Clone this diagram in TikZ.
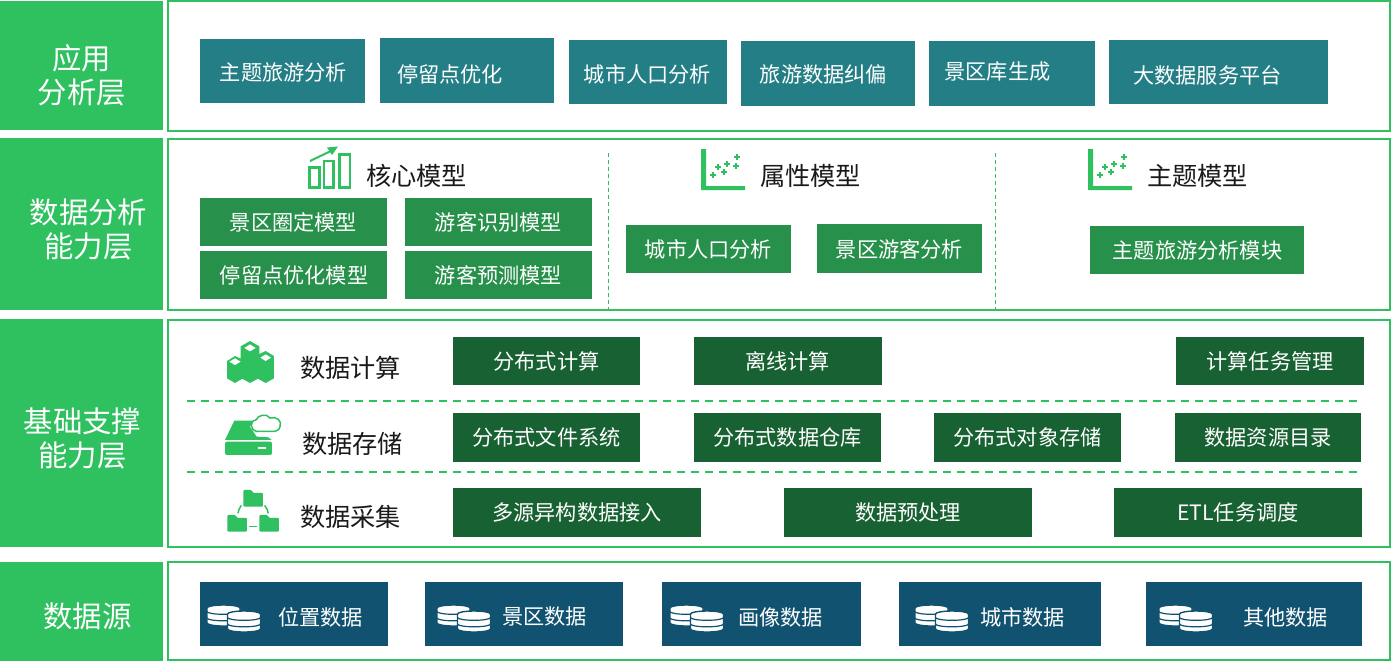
\documentclass[tikz,border=0pt]{standalone}
\usepackage{fontspec}
\setmainfont{Noto Sans CJK SC}
\definecolor{leaf}{HTML}{2FC060}
\definecolor{tealbox}{HTML}{237F85}
\definecolor{midgreen}{HTML}{27904A}
\definecolor{darkgreen}{HTML}{186132}
\definecolor{navybox}{HTML}{105270}
\definecolor{inktext}{HTML}{1A1A1A}
\tikzset{
  x=1pt,y=-1pt,
  every node/.style={inner sep=0pt,outer sep=0pt},
  band/.style={fill=leaf,draw=none},
  frame/.style={draw=leaf,line width=2pt,fill=white},
  bandtext/.style={text=white,font=\fontsize{29.4}{33.5}\selectfont,align=center},
  boxtext/.style={text=white,font=\fontsize{21.2}{25}\selectfont},
  headtext/.style={text=inktext,font=\fontsize{25.2}{30}\selectfont},
  rowsep/.style={draw=leaf,line width=1.6pt,dash pattern=on 8pt off 6pt},
  colsep/.style={draw=leaf,line width=1pt,dash pattern=on 4pt off 3pt},
  icon/.style={fill=leaf,draw=none},
  disc/.style={fill=white,draw=none},
  pics/dbstack/.style={code={
    \foreach \dx/\dy in {0/0,20.5/6}{
      % the outline keeps the front stack apart from the one behind it
      \path[disc,draw=navybox,line width=1.4pt] (\dx,\dy+3)
        arc[start angle=180,end angle=360,x radius=16.5,y radius=3]
        -- (\dx+33,\dy+18)
        arc[start angle=0,end angle=180,x radius=16.5,y radius=3] -- cycle;
      \foreach \k in {6.5,13}{
        \draw[navybox,line width=1.2pt] (\dx,\dy+\k)
          arc[start angle=180,end angle=0,x radius=16.5,y radius=2.8];
      }
    }
  }},
  pics/scatter/.style={code={
    \fill[leaf] (0,0) rectangle (5,41) (0,37) rectangle (44,41);
    \foreach \px/\py in {12/26,17/18,23/23,26/15,35/17,36/8}{
      \draw[leaf,line width=1.5pt] (\px-2.8,\py) -- (\px+2.8,\py) (\px,\py-2.8) -- (\px,\py+2.8);
    }
  }}
}
% filled box with its caption placed separately
\newcommand{\tagbox}[8]{%
  \node[fill=#6,minimum width=#4pt-#2pt,minimum height=#5pt-#3pt,anchor=north west] (#1) at (#2,#3) {};
  \node[boxtext] (#1t) at (#7) {#8};
}
\begin{document}
\begin{tikzpicture}
\useasboundingbox (0,0) rectangle (1391,662);
\fill[white] (0,0) rectangle (1391,662);

% layer bands on the left and their frames
\fill[band] (0,1) rectangle (163,130);
\fill[band] (0,138) rectangle (163,310);
\fill[band] (0,319) rectangle (163,547);
\fill[band] (0,562) rectangle (163,661);
\draw[frame] (168,1) rectangle (1390,131);
\draw[frame] (168,139) rectangle (1390,310);
\draw[frame] (168,320) rectangle (1390,547);
\draw[frame] (168,562) rectangle (1390,660);
\node[bandtext] (lapp) at (81.7,75.5) {应用\\分析层};
\node[bandtext] (lana) at (88.5,229.5) {数据分析\\能力层};
\node[bandtext] (lbase) at (82.5,438.5) {基础支撑\\能力层};
\node[bandtext] (lsrc) at (87.5,616) {数据源};

% application layer
\tagbox{a1}{200}{39}{365}{103}{tealbox}{283.5,72}{主题旅游分析}
\tagbox{a2}{380}{38}{554}{103}{tealbox}{450,74}{停留点优化}
\tagbox{a3}{569}{40}{727}{104}{tealbox}{647.5,74}{城市人口分析}
\tagbox{a4}{741}{41}{915}{106}{tealbox}{823.5,74}{旅游数据纠偏}
\tagbox{a5}{929}{41}{1095}{106}{tealbox}{997.5,72}{景区库生成}
\tagbox{a6}{1109}{40}{1328}{104}{tealbox}{1207.5,75}{大数据服务平台}

% analysis layer
\draw[colsep] (608,153) -- (608,309);
\draw[colsep] (995,153) -- (995,309);
\node[headtext] (hcore) at (416.5,175.5) {核心模型};
\node[headtext] (hattr) at (810.5,175.5) {属性模型};
\node[headtext] (htheme) at (1197.5,175.5) {主题模型};
\tagbox{b1}{200}{198}{387}{246}{midgreen}{293.5,222}{景区圈定模型}
\tagbox{b2}{405}{198}{592}{246}{midgreen}{498.5,222}{游客识别模型}
\tagbox{b3}{200}{251}{387}{299}{midgreen}{294,275}{停留点优化模型}
\tagbox{b4}{405}{251}{592}{299}{midgreen}{498.5,275}{游客预测模型}
\tagbox{b5}{626}{225}{791}{273}{midgreen}{708.5,249}{城市人口分析}
\tagbox{b6}{817}{224}{982}{273}{midgreen}{899.5,249}{景区游客分析}
\tagbox{b7}{1090}{226}{1304}{274}{midgreen}{1197.5,250}{主题旅游分析模块}

% rising bars icon
\draw[leaf,line width=2.2pt] (309.5,167.5) rectangle (319.5,187.5)
  (324,161) rectangle (333.5,187.5) (339.5,154.5) rectangle (350,187.5);
\draw[leaf,line width=2pt] (310,161) -- (333,150);
\fill[leaf] (338,146.5) -- (327,147.5) -- (332,155) -- cycle;
\pic at (701,149) {scatter};
\pic at (1088,149) {scatter};

% support layer
\draw[rowsep] (187,401) -- (1358,401);
\draw[rowsep] (187,472) -- (1358,472);
\node[headtext] (hcalc) at (350.5,367.5) {数据计算};
\node[headtext] (hstore) at (352.5,443.5) {数据存储};
\node[headtext] (hcoll) at (350.5,516.5) {数据采集};
\tagbox{c1}{453}{337}{640}{385}{darkgreen}{546.5,361}{分布式计算}
\tagbox{c2}{694}{337}{882}{385}{darkgreen}{787.5,361}{离线计算}
\tagbox{c3}{1176}{337}{1364}{385}{darkgreen}{1270,361.5}{计算任务管理}
\tagbox{c4}{453}{413}{640}{462}{darkgreen}{546.5,437.5}{分布式文件系统}
\tagbox{c5}{694}{413}{881}{462}{darkgreen}{787.5,437.5}{分布式数据仓库}
\tagbox{c6}{934}{413}{1121}{462}{darkgreen}{1027.5,437.5}{分布式对象存储}
\tagbox{c7}{1175}{413}{1361}{462}{darkgreen}{1268,437.5}{数据资源目录}
\tagbox{c8}{453}{488}{701}{537}{darkgreen}{577,512.5}{多源异构数据接入}
\tagbox{c9}{784}{488}{1032}{537}{darkgreen}{908,512.5}{数据预处理}
\tagbox{c10}{1114}{488}{1362}{537}{darkgreen}{1238,512.5}{ETL任务调度}

% cube cluster icon
\begin{scope}[shift={(200,330)},x=.3333pt,y=-.3333pt]
  \fill[icon] (150,33) -- (178,49) -- (178,72) -- (197,63) -- (222,78) -- (222,145)
    -- (197,159) -- (174,146) -- (150,159) -- (127,146) -- (105,159) -- (81,145)
    -- (81,93) -- (105,78) -- (122,86) -- (122,49) -- cycle;
  \fill[white] (150,43) -- (167,54) -- (150,64) -- (133,54) -- cycle;
  \fill[white] (197,73) -- (213,83) -- (197,93) -- (181,83) -- cycle;
  \fill[white] (105,85) -- (122,95) -- (105,105) -- (88,95) -- cycle;
\end{scope}

% drive with cloud icon
\begin{scope}[shift={(200,330)},x=.3333pt,y=-.3333pt]
  \fill[icon] (103,272) -- (160,272) -- (150,290) -- (170,320) -- (205,322) -- (215,330)
    -- (75,330) -- cycle;
  \fill[icon,rounded corners=2pt] (75,335) rectangle (216,375);
  \fill[white] (175,352) rectangle (197,358);
  \draw[leaf,line width=1.5pt,fill=white] (170,304)
    .. controls (150,300) and (148,272) .. (168,270)
    .. controls (172,256) and (200,248) .. (210,264)
    .. controls (228,258) and (248,272) .. (240,290)
    .. controls (238,302) and (225,305) .. (215,304) -- cycle;
\end{scope}

% linked folders icon
\begin{scope}[shift={(200,330)},x=.3333pt,y=-.3333pt]
  \foreach \fx/\fy in {130/480,82/555,178/555}{
    \fill[icon,rounded corners=1pt] (\fx,\fy) -- (\fx+24,\fy) -- (\fx+30,\fy+9) -- (\fx+59,\fy+9)
      -- (\fx+59,\fy+50) -- (\fx,\fy+50) -- cycle;
  }
  \draw[leaf,line width=1.5pt] (124,526) .. controls (118,534) and (115,542) .. (114,550);
  \draw[leaf,line width=1.5pt] (194,526) .. controls (200,534) and (204,542) .. (205,550);
  \draw[leaf,line width=1.5pt] (148,590) -- (172,590);
\end{scope}

% data sources
\tagbox{d1}{200}{582}{388}{646}{navybox}{320.5,617.5}{位置数据}
\tagbox{d2}{425}{582}{623}{646}{navybox}{544.5,616.5}{景区数据}
\tagbox{d3}{662}{582}{861}{646}{navybox}{780.5,617.5}{画像数据}
\tagbox{d4}{899}{582}{1101}{646}{navybox}{1022.5,617.5}{城市数据}
\tagbox{d5}{1146}{582}{1362}{646}{navybox}{1285.5,617.5}{其他数据}
\pic at (207,605) {dbstack};
\pic at (437,605) {dbstack};
\pic at (670,605) {dbstack};
\pic at (915,605) {dbstack};
\pic at (1159,605) {dbstack};
\end{tikzpicture}
\end{document}
